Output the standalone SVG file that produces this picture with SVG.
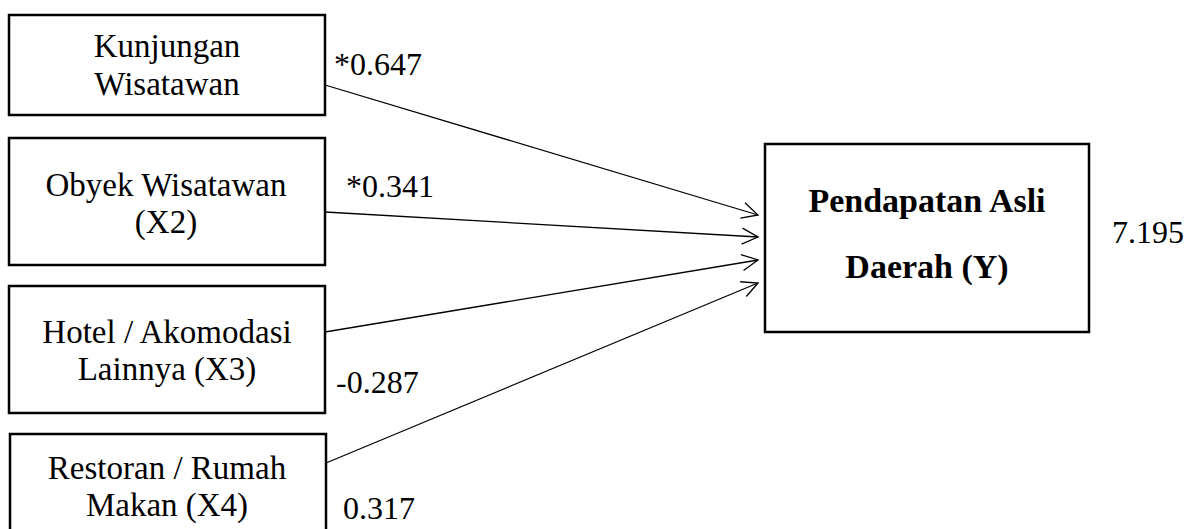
<svg xmlns="http://www.w3.org/2000/svg" width="1188" height="529" viewBox="0 0 1188 529">
<style>
.box{fill:#fff;stroke:#000;stroke-width:2.5}
.t{font-family:"Liberation Serif","Times New Roman",serif;font-size:32px;fill:#000}
.n{font-size:33px}
.c{text-anchor:middle}
.b{font-weight:bold;font-size:34px}
.edge{stroke:#000;stroke-width:1.3;fill:none;marker-end:url(#arr)}
</style>
<defs>
<marker id="arr" viewBox="0 0 20 20" refX="18" refY="10" markerWidth="20" markerHeight="20" markerUnits="userSpaceOnUse" orient="auto">
<path d="M2,2 L18,10 L2,18" fill="none" stroke="#000" stroke-width="1.3"/>
</marker>
</defs>
<rect width="1188" height="529" fill="#fff"/>
<g id="x1">
<rect class="box" x="9" y="15" width="316" height="100"/>
<text class="t n c" x="167" y="57">Kunjungan</text>
<text class="t n c" x="167" y="95">Wisatawan</text>
</g>
<g id="x2">
<rect class="box" x="9" y="138" width="316" height="127"/>
<text class="t n c" x="166" y="196">Obyek Wisatawan</text>
<text class="t n c" x="166" y="233">(X2)</text>
</g>
<g id="x3">
<rect class="box" x="9" y="286" width="316" height="127"/>
<text class="t n c" x="167" y="343">Hotel / Akomodasi</text>
<text class="t n c" x="167" y="380">Lainnya (X3)</text>
</g>
<g id="x4">
<rect class="box" x="10" y="434" width="316" height="110"/>
<text class="t n c" x="167" y="479">Restoran / Rumah</text>
<text class="t n c" x="167" y="516">Makan (X4)</text>
</g>
<g id="y">
<rect class="box" x="765" y="144" width="324" height="188"/>
<text class="t c b" x="927" y="212">Pendapatan Asli</text>
<text class="t c b" x="927" y="278">Daerah (Y)</text>
</g>
<g id="connectors">
<line class="edge" x1="325" y1="85" x2="758" y2="215"/>
<line class="edge" x1="325" y1="212" x2="758" y2="237"/>
<line class="edge" x1="325" y1="332" x2="758" y2="260"/>
<line class="edge" x1="326" y1="463" x2="758" y2="283"/>
</g>
<g id="labels">
<text class="t" x="334" y="75">*0.647</text>
<text class="t" x="346" y="197">*0.341</text>
<text class="t" x="336" y="393">-0.287</text>
<text class="t" x="343" y="519">0.317</text>
<text class="t" x="1112" y="243">7.195</text>
</g>
</svg>
